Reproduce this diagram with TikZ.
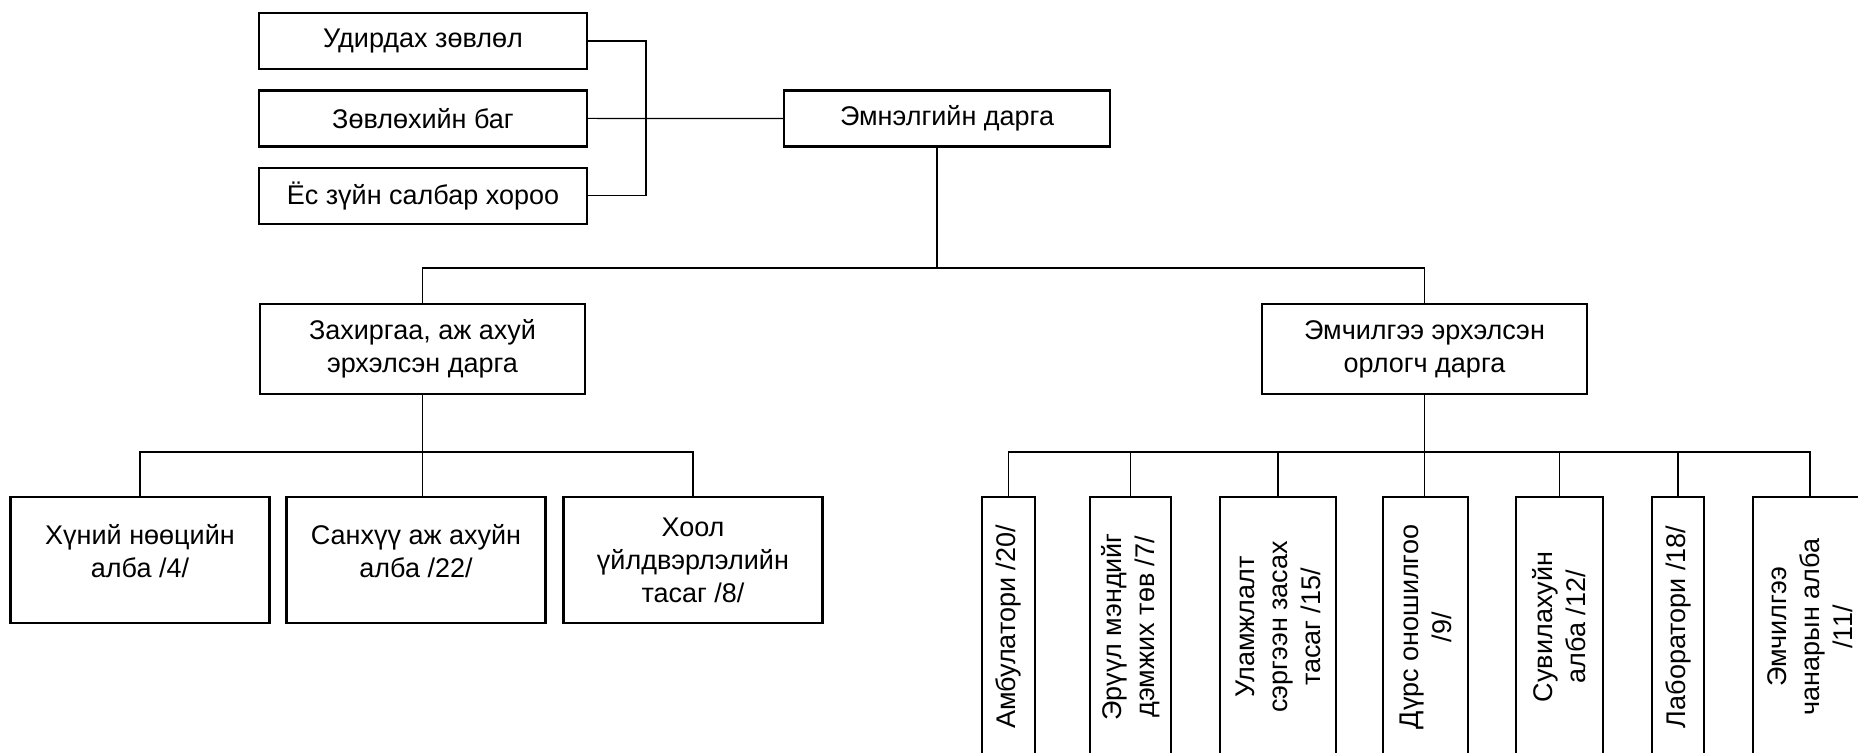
\documentclass[tikz,border=0pt]{standalone}
\usepackage{fontspec}
\setmainfont{Liberation Sans}
\usetikzlibrary{positioning, calc}

\begin{document}
\begin{tikzpicture}[
    x=0.5pt, y=-0.5pt,
    font=\fontsize{13.5}{16.5}\selectfont,
    node distance=9.5pt,
    unit/.style={rectangle, draw, line width=1.2pt, align=center, inner sep=2pt},
    txt/.style={align=center, inner sep=2pt},
    topbox/.style={unit, minimum width=164pt, minimum height=28pt},
    deputy/.style={unit, minimum width=162.5pt, minimum height=45pt},
    dept/.style={unit, minimum width=129.5pt, minimum height=63pt},
    vdept/.style={unit, rotate=90, minimum width=130pt},
    link/.style={line width=0.6pt}
]
\useasboundingbox (0,0) rectangle (1858,753);
\clip (0,0) rectangle (1858,753);

% Top boxes
\node[topbox] (udir) at (423,41) {Удирдах зөвлөл};
\node[topbox, below=of udir] (zovl) {Зөвлөхийн баг};
\node[topbox, below=of zovl] (yos) {Ёс зүйн салбар хороо};
\node[topbox, minimum width=163pt] (head) at (947,118.5) {Эмнэлгийн дарга};

% Deputies
\node[deputy] (adm) at (422.5,349) {Захиргаа, аж ахуй\\эрхэлсэн дарга};
\node[deputy] (med) at (1424.5,349) {Эмчилгээ эрхэлсэн\\орлогч дарга};

% Administrative units
\node[dept] (hun) at (140,560) {};
\node[txt, yshift=4.5pt] (hun-t) at (hun) {Хүний нөөцийн\\алба /4/};
\node[dept] (san) at (416,560) {};
\node[txt, yshift=4.5pt] (san-t) at (san) {Санхүү аж ахуйн\\алба /22/};
\node[dept] (hool) at (693,560) {Хоол\\үйлдвэрлэлийн\\тасаг /8/};

% Medical units (rotated, so .east is the top end)
\node[vdept, minimum height=26.5pt] (amb) at (1008.5,627) {Амбулатори /20/};
\node[vdept, minimum height=40.5pt] (eruul) at (1130.5,627) {Эрүүл мэндийг\\дэмжих төв /7/};
\node[vdept, minimum height=58pt] (ulam) at (1278,627) {Уламжлалт\\сэргээн засах\\тасаг /15/};
\node[vdept, minimum height=42.5pt] (durs) at (1425.5,627) {Дүрс оношилгоо\\/9/};
\node[vdept, minimum height=43.5pt] (suv) at (1559.5,627) {Сувилахуйн\\алба /12/};
\node[vdept, minimum height=26pt] (lab) at (1678,627) {Лаборатори /18/};
\node[vdept, minimum height=57pt] (emch) at (1810,627) {Эмчилгээ\\чанарын алба\\/11/};

% Lines
\coordinate (brk) at (646,118.5);
\coordinate (bus) at (937,268);
\coordinate (admbus) at (422.5,452);
\coordinate (medbus) at (1424.5,452);

\draw[link] (udir.east) -| (brk) |- (yos.east);
\draw[link] (zovl.east) -- (head.west);
\draw[link] (head.south -| bus) -- (bus);
\draw[link] (adm.north) |- (bus) -| (med.north);

\draw[link] (adm.south) -- (adm.south |- san.north);
\draw[link] (hun.north) |- (admbus) -| (hool.north);

\draw[link] (med.south) -- (med.south |- durs.east);
\draw[link] (amb.east) |- (medbus) -| (emch.east);
\foreach \d in {eruul, ulam, suv, lab}
    \draw[link] (\d.east) -- (\d.east |- medbus);

\end{tikzpicture}
\end{document}
